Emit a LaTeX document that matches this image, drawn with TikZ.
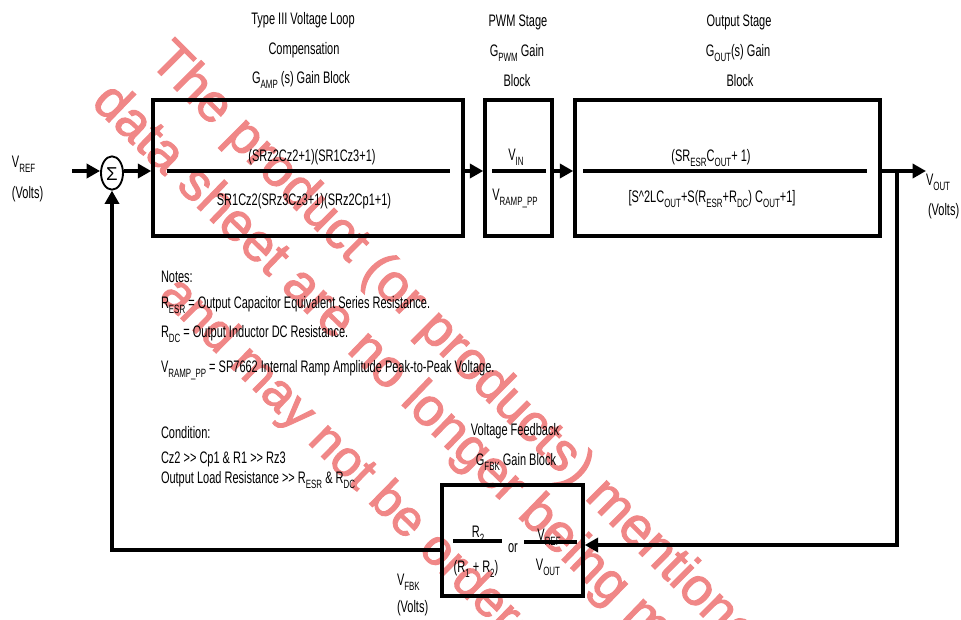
\documentclass[tikz,border=0pt]{standalone}
\usepackage{fontspec}
\setmainfont{Liberation Sans}[FakeStretch=0.66]
\newfontfamily\wmfont{Liberation Sans}[FakeBold=2]
\newfontfamily\sigfont{Liberation Sans}
\usetikzlibrary{arrows.meta,fit,shapes.geometric}
\definecolor{wm}{RGB}{240,135,135}
\newcommand{\sbs}[1]{\raisebox{-0.6ex}{\fontsize{9pt}{9pt}\selectfont #1}}
\newcommand{\txtsize}{\fontsize{12.5pt}{15pt}\selectfont}
\newcommand{\ggt}{\mbox{>}\mbox{>}}
\begin{document}
\begin{tikzpicture}[x=0.75pt,y=-0.75pt,
  lbl/.style={inner sep=0pt, outer sep=0pt, font=\txtsize, anchor=base},
  lbll/.style={lbl, anchor=base west},
  blk/.style={draw, line width=2.6pt, inner sep=0pt},
  ln/.style={line width=2.5pt},
  arr/.style={line width=2.5pt, -{Triangle[length=10pt,width=10.5pt]}},
  wmtext/.style={inner sep=0pt, anchor=base west, text=wm, font=\wmfont\fontsize{40pt}{40pt}\selectfont}
]
\useasboundingbox (0,0) rectangle (961,619);
% watermark
\begin{scope}
\clip (0,0) rectangle (961,619);
\node[wmtext, rotate=-45] (wm1) at (148,62) {The product (or products) mentioned in this};
\node[wmtext, rotate=-44] (wm2) at (90,104) {data sheet are no longer being manufactured};
\node[wmtext, rotate=-44.5, font=\wmfont\fontsize{38pt}{38pt}\selectfont] (wm3) at (158,296) {and may not be ordered.};
\end{scope}

% titles
\node[lbl] (t1a) at (303,24) {Type III Voltage Loop};
\node[lbl] (t1b) at (304,54) {Compensation};
\node[lbl] (t1c) at (301,83) {G\sbs{AMP} (s) Gain Block};
\node[lbl] (t2a) at (518,26) {PWM Stage};
\node[lbl] (t2b) at (517,56) {G\sbs{PWM} Gain};
\node[lbl] (t2c) at (517,86) {Block};
\node[lbl] (t3a) at (739,26) {Output Stage};
\node[lbl] (t3b) at (738,56) {G\sbs{OUT}(s) Gain};
\node[lbl] (t3c) at (740,86) {Block};

% blocks
\node[blk, fit={(153,100) (463,236)}] (box1) {};
\node[blk, fit={(485,100) (552,236)}] (box2) {};
\node[blk, fit={(575,100) (880,236)}] (box3) {};
\node[blk, fit={(442,485) (583,596)}] (box4) {};
\node[draw, ellipse, line width=1.4pt, minimum width=16.5pt, minimum height=25pt, inner sep=0pt] (sum) at (112,173) {};
\node[inner sep=0pt, font=\sigfont\fontsize{14pt}{14pt}\selectfont] (sigma) at (112,174) {Σ};

% block contents
\draw[ln] (167,171) -- (450,171);
\node[lbl] (n1) at (312,161) {(SRz2Cz2+1)(SR1Cz3+1)};
\node[lbl] (d1) at (304,205) {SR1Cz2(SRz3Cz3+1)(SRz2Cp1+1)};
\draw[ln] (492,171) -- (546,171);
\node[lbl] (n2) at (516,160) {V\sbs{IN}};
\node[lbl] (d2) at (515,200) {V\sbs{RAMP\_PP}};
\draw[ln] (583,171) -- (867,171);
\node[lbl] (n3) at (711,161) {(SR\sbs{ESR}C\sbs{OUT}+ 1)};
\node[lbl] (d3) at (712,202) {[S\textasciicircum 2LC\sbs{OUT}+S(R\sbs{ESR}+R\sbs{DC}) C\sbs{OUT}+1]};
\draw[ln] (453,541) -- (502,541);
\draw[ln] (524,542) -- (577,542);
\node[lbl] (n4a) at (478,537) {R\sbs{2}};
\node[lbl] (d4a) at (476,572) {(R\sbs{1} + R\sbs{2})};
\node[lbl] (or4) at (513,552) {or};
\node[lbl] (n4b) at (549,540) {V\sbs{REF}};
\node[lbl] (d4b) at (548,570) {V\sbs{OUT}};

% labels
\node[lbll] (vref) at (12,167) {V\sbs{REF}};
\node[lbll] (vrefu) at (12,198) {(Volts)};
\node[lbll] (vout) at (926,185) {V\sbs{OUT}};
\node[lbll] (voutu) at (928,215) {(Volts)};
\node[lbll] (vfbk) at (397,585) {V\sbs{FBK}};
\node[lbll] (vfbku) at (397,612) {(Volts)};
\node[lbl] (fb1) at (515,435) {Voltage Feedback};
\node[lbl] (fb2) at (516,465) {G\sbs{FBK} Gain Block};

% notes
\node[lbll] (no0) at (161,282) {Notes:};
\node[lbll] (no1) at (161,308) {R\sbs{ESR} = Output Capacitor Equivalent Series Resistance.};
\node[lbll] (no2) at (161,337) {R\sbs{DC} = Output Inductor DC Resistance.};
\node[lbll] (no3) at (161,372) {V\sbs{RAMP\_PP} = SP7662 Internal Ramp Amplitude Peak-to-Peak Voltage.};
\node[lbll] (co0) at (161,438) {Condition:};
\node[lbll] (co1) at (161,463) {Cz2 \ggt{} Cp1 \& R1 \ggt{} Rz3};
\node[lbll] (co2) at (161,483) {Output Load Resistance \ggt{} R\sbs{ESR} \& R\sbs{DC}};

% connectors
\coordinate (m1) at (0,171);
\coordinate (vin) at (72,171);
\coordinate (voutend) at (926,171);
\coordinate (br) at (897,171);
\coordinate (fbr) at (0,545);
\coordinate (fbl) at (0,550);
\draw[arr] (vin) -- (vin -| sum.west);
\draw[arr] (sum.east |- m1) -- (box1.west |- m1);
\draw[arr] (box1.east |- m1) -- (box2.west |- m1);
\draw[arr] (box2.east |- m1) -- (box3.west |- m1);
\draw[arr] (box3.east |- m1) -- (voutend);
\draw[arr] (br) |- (box4.east |- fbr);
\draw[arr] (box4.west |- fbl) -| (sum.south);
\end{tikzpicture}
\end{document}
